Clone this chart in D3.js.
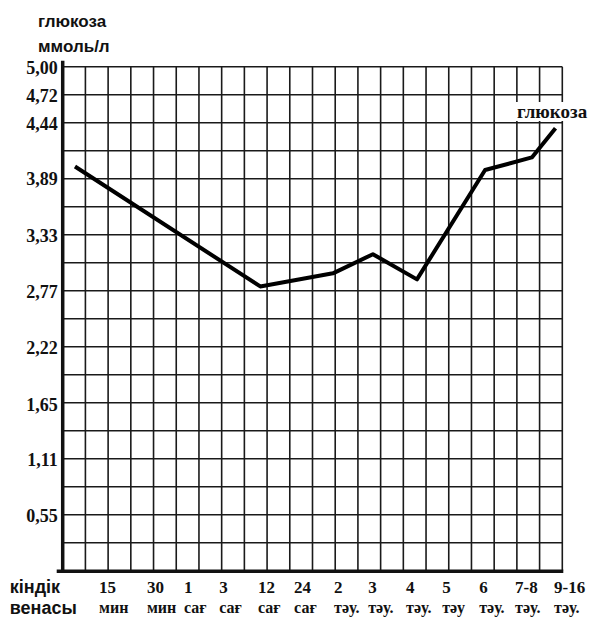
<!DOCTYPE html>
<html lang="kk">
<head>
  <meta charset="utf-8">
  <title>глюкоза</title>
  <script src="https://cdn.jsdelivr.net/npm/d3@7"></script>
  <style>
    body { margin: 0; background: #fff; }
  </style>
</head>
<body>
<script>
  // y tick labels (mmol/l)
  const yTicks = [5.00, 4.72, 4.44, 3.89, 3.33, 2.77, 2.22, 1.65, 1.11, 0.55];

  // time categories along the bottom (two lines each) and their grid column
  const catTop = ["кіндік", "15", "30", "1", "3", "12", "24", "2", "3", "4", "5", "6", "7-8", "9-16"];
  const catBottom = ["венасы", "мин", "мин", "сағ", "сағ", "сағ", "сағ", "тәу.", "тәу.", "тәу.", "тәу", "тәу.", "тәу.", "тәу."];
  const catCols = [-2.33, 1.6, 3.71, 5.34, 6.89, 8.6, 10.19, 11.95, 13.45, 15.12, 16.71, 18.34, 19.92, 21.64];

  // glucose curve: grid column of each measurement and its value
  const pointCols = [0.54, 8.7, 11.9, 13.66, 15.6, 18.6, 20.66, 21.7];
  const glucose = [4.01, 2.82, 2.95, 3.14, 2.89, 3.975, 4.10, 4.39];

  const w = 593, h = 617;
  const nCols = 22, nRows = 18;
  const SERIF = "'Liberation Serif', 'Times New Roman', 'DejaVu Serif', serif";
  const SANS = "'Liberation Sans', Arial, sans-serif";

  const x = d3.scaleLinear().domain([0, nCols]).range([62.7, 562.3]);
  const y = d3.scaleLinear().domain([0, 5]).range([570.7, 66.7]);

  const svg = d3.select("body").append("svg")
    .attr("width", w)
    .attr("height", h);

  // grid
  const grid = svg.append("g").attr("stroke", "#1a1a1a").attr("stroke-width", 1.6);
  grid.selectAll("line.v")
    .data(d3.range(1, nCols + 1))
    .enter().append("line")
    .attr("x1", d => x(d)).attr("x2", d => x(d))
    .attr("y1", y(5)).attr("y2", y(0));
  grid.selectAll("line.h")
    .data(d3.range(0, nRows + 1).map(i => i * 5 / nRows))
    .enter().append("line")
    .attr("x1", x(0)).attr("x2", x(nCols))
    .attr("y1", d => y(d)).attr("y2", d => y(d));

  // thick axes
  svg.append("line")
    .attr("x1", x(0)).attr("x2", x(0))
    .attr("y1", y(5) - 6).attr("y2", y(0) + 2)
    .attr("stroke", "#111").attr("stroke-width", 3.5);
  svg.append("line")
    .attr("x1", x(0) - 6).attr("x2", x(nCols) + 1)
    .attr("y1", y(0) + 0.5).attr("y2", y(0) + 0.5)
    .attr("stroke", "#111").attr("stroke-width", 3.5);

  // y tick labels
  svg.selectAll("text.yt")
    .data(yTicks)
    .enter().append("text")
    .attr("font-family", SERIF).attr("font-weight", "bold").attr("fill", "#111")
    .attr("x", x(0) - 5)
    .attr("y", d => y(d))
    .attr("dy", "0.38em")
    .attr("text-anchor", "end")
    .attr("font-size", 18)
    .text(d => d.toFixed(2).replace(".", ","));

  // y axis title
  svg.append("text").attr("font-family", SANS).attr("font-weight", "bold").attr("fill", "#111")
    .attr("x", 38).attr("y", 27).attr("font-size", 17).text("глюкоза");
  svg.append("text").attr("font-family", SANS).attr("font-weight", "bold").attr("fill", "#111")
    .attr("x", 38).attr("y", 52).attr("font-size", 17).text("ммоль/л");

  // x category labels
  svg.selectAll("text.xt1")
    .data(catTop)
    .enter().append("text")
    .attr("font-family", (d, i) => i === 0 ? SANS : SERIF)
    .attr("font-weight", "bold").attr("fill", "#111")
    .attr("x", (d, i) => x(catCols[i]))
    .attr("y", 593)
    .attr("font-size", (d, i) => i === 0 ? 18 : 17)
    .text(d => d);
  svg.selectAll("text.xt2")
    .data(catBottom)
    .enter().append("text")
    .attr("font-family", (d, i) => i === 0 ? SANS : SERIF)
    .attr("font-weight", "bold").attr("fill", "#111")
    .attr("x", (d, i) => x(catCols[i]))
    .attr("y", (d, i) => i === 0 ? 614 : 613)
    .attr("font-size", (d, i) => i === 0 ? 18 : 16)
    .text(d => d);

  // glucose line
  const line = d3.line()
    .x((d, i) => x(pointCols[i]))
    .y(d => y(d));
  svg.append("path")
    .datum(glucose)
    .attr("d", line)
    .attr("fill", "none")
    .attr("stroke", "#000")
    .attr("stroke-width", 4)
    .attr("stroke-linejoin", "round");

  // series label
  svg.append("rect")
    .attr("x", 515).attr("y", 102).attr("width", 78).attr("height", 19)
    .attr("fill", "#fff");
  svg.append("text")
    .attr("font-family", SERIF).attr("font-weight", "bold").attr("fill", "#111")
    .attr("x", 517).attr("y", 118)
    .attr("font-size", 19)
    .text("глюкоза");
</script>
</body>
</html>
